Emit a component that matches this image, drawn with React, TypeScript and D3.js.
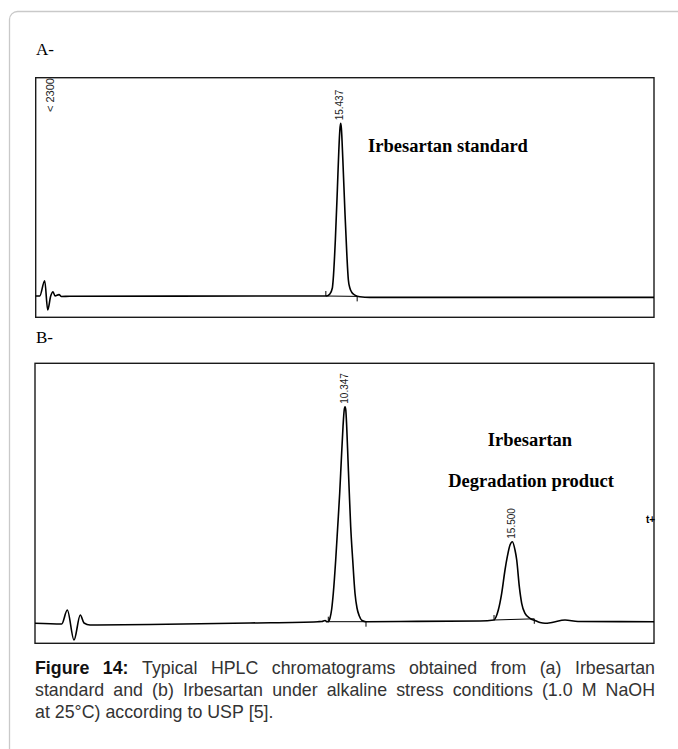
import * as d3 from 'd3';
import { useEffect, useRef } from 'react';

// Panel A - Irbesartan standard (retention time in min, detector response)
const timeA = [0, 0.203, 0.456, 0.608, 0.76, 0.876, 0.977, 1.18, 1.302, 1.722,
  14.724, 14.891, 15.017, 15.058, 15.169, 15.27, 15.346, 15.397, 15.437, 15.473,
  15.549, 15.65, 15.752, 15.828, 15.904, 16.005, 16.157, 16.41, 16.916, 31.3];
const signalA = [4, 4, 165, -143, 4, 49, 4, 18, -1, 2,
  4, 25, 88, 172, 593, 1119, 1540, 1750, 1820, 1771,
  1434, 908, 435, 172, 88, 41, 14, -4, -10, -10];

// Panel B - Irbesartan under alkaline stress
const timeB = [0.8, 1.622, 1.795, 2.001, 2.195, 2.309, 2.494, 4.341, 7.42, 9.514,
  9.637, 9.73, 9.791, 9.831, 9.884, 9.936, 9.985, 10.059, 10.121, 10.182,
  10.232, 10.284, 10.321, 10.347, 10.37, 10.398, 10.438, 10.478, 10.521, 10.583,
  10.653, 10.715, 10.786, 10.869, 10.992, 12.039, 14.502, 14.934, 14.995, 15.066,
  15.17, 15.272, 15.343, 15.426, 15.5, 15.58, 15.633, 15.713, 15.786, 15.888,
  16.042, 16.196, 16.35, 16.504, 16.72, 17.12, 17.52, 19.86];
const signalB = [0, -7, 133, -167, 83, 3, -17, -12, 3, 16,
  18, 28, 15, 16, 53, 143, 300, 633, 966, 1300,
  1633, 1966, 2133, 2166, 2133, 1966, 1633, 1300, 966, 633,
  300, 153, 73, 28, 16, 18, 23, 33, 63, 133,
  300, 533, 666, 783, 816, 733, 633, 366, 200, 100,
  50, 28, 8, 0, 8, 33, 18, 16];

// peak labels (retention times) and apex heights
const peakTimesA = [15.437];
const peakHeightsA = [1820];
const peakTimesB = [10.347, 15.5];
const peakHeightsB = [2166, 816];

// integration marks: [start time, start value, end time, end value]
const integrationA = [[14.688, 4, 16.273, 0]];
const integrationB = [[9.831, 16, 10.992, 16], [14.934, 33, 16.174, 45]];

const captionLines = [
  'Figure 14: Typical HPLC chromatograms obtained from (a) Irbesartan',
  'standard and (b) Irbesartan under alkaline stress conditions (1.0 M NaOH',
  'at 25°C) according to USP [5].',
];

const App = () => {
  const svgRef = useRef<SVGSVGElement | null>(null);

  useEffect(() => {
    const width = 678;
    const height = 749;
    const svg = d3.select(svgRef.current)
      .attr('width', width)
      .attr('height', height);
    svg.selectAll('*').remove();

    // outer frame of the figure
    svg.append('rect')
      .attr('x', 9.5).attr('y', 11.5)
      .attr('width', 700).attr('height', 760)
      .attr('rx', 8)
      .attr('fill', 'none')
      .attr('stroke', '#c9c9c9')
      .attr('stroke-width', 1.3);

    const drawPanel = (cfg: {
      left: number; right: number; top: number; bottom: number;
      tDomain: [number, number]; vDomain: [number, number];
      times: number[]; values: number[];
      peakTimes: number[]; peakHeights: number[];
      integration: number[][];
    }) => {
      const x = d3.scaleLinear().domain(cfg.tDomain).range([cfg.left, cfg.right]);
      const y = d3.scaleLinear().domain(cfg.vDomain).range([cfg.bottom, cfg.top]);
      const g = svg.append('g');

      g.append('rect')
        .attr('x', cfg.left).attr('y', cfg.top)
        .attr('width', cfg.right - cfg.left).attr('height', cfg.bottom - cfg.top)
        .attr('fill', 'none')
        .attr('stroke', '#1a1a1a')
        .attr('stroke-width', 1.4);

      const pts = cfg.times.map((t, i) => [t, cfg.values[i]] as [number, number]);
      const line = d3.line<[number, number]>()
        .x((d) => x(d[0]))
        .y((d) => y(d[1]))
        .curve(d3.curveMonotoneX);

      g.append('path')
        .datum(pts)
        .attr('fill', 'none')
        .attr('stroke', '#000')
        .attr('stroke-width', 1.6)
        .attr('stroke-linejoin', 'round')
        .attr('d', line);

      // integration baseline and start/end ticks
      cfg.integration.forEach((m) => {
        g.append('line')
          .attr('x1', x(m[0])).attr('y1', y(m[1]))
          .attr('x2', x(m[2])).attr('y2', y(m[3]))
          .attr('stroke', '#000').attr('stroke-width', 1);
        g.append('line')
          .attr('x1', x(m[0])).attr('y1', y(m[1]))
          .attr('x2', x(m[0])).attr('y2', y(m[1]) - 5)
          .attr('stroke', '#000').attr('stroke-width', 1);
        g.append('line')
          .attr('x1', x(m[2])).attr('y1', y(m[3]))
          .attr('x2', x(m[2])).attr('y2', y(m[3]) + 5)
          .attr('stroke', '#000').attr('stroke-width', 1);
      });

      cfg.peakTimes.forEach((t, i) => {
        g.append('text')
          .attr('transform', `translate(${x(t) + 2.5},${y(cfg.peakHeights[i]) - 3}) rotate(-90)`)
          .attr('font-family', 'Liberation Sans, Arial, sans-serif')
          .attr('font-size', 10)
          .attr('fill', '#222')
          .text(t.toFixed(3));
      });
      return g;
    };

    // Panel A
    svg.append('text')
      .attr('x', 36).attr('y', 55)
      .attr('font-family', 'Liberation Serif, Times New Roman, serif')
      .attr('font-size', 17)
      .text('A-');

    const gA = drawPanel({
      left: 35.7, right: 654, top: 77.7, bottom: 317.3,
      tDomain: [0, 31.3], vDomain: [-220, 2300],
      times: timeA, values: signalA,
      peakTimes: peakTimesA, peakHeights: peakHeightsA,
      integration: integrationA,
    });
    gA.append('text')
      .attr('transform', 'translate(54,112) rotate(-90)')
      .attr('font-family', 'Liberation Sans, Arial, sans-serif')
      .attr('font-size', 11)
      .attr('fill', '#222')
      .text('< 2300');
    gA.append('text')
      .attr('x', 448).attr('y', 152)
      .attr('text-anchor', 'middle')
      .attr('font-family', 'Liberation Serif, Times New Roman, serif')
      .attr('font-weight', 'bold')
      .attr('font-size', 18.5)
      .text('Irbesartan standard');

    // Panel B
    svg.append('text')
      .attr('x', 36).attr('y', 343)
      .attr('font-family', 'Liberation Serif, Times New Roman, serif')
      .attr('font-size', 17)
      .text('B-');

    const gB = drawPanel({
      left: 35, right: 654, top: 363.3, bottom: 643.3,
      tDomain: [0.8, 19.86], vDomain: [-200, 2600],
      times: timeB, values: signalB,
      peakTimes: peakTimesB, peakHeights: peakHeightsB,
      integration: integrationB,
    });
    gB.append('text')
      .attr('x', 530).attr('y', 446)
      .attr('text-anchor', 'middle')
      .attr('font-family', 'Liberation Serif, Times New Roman, serif')
      .attr('font-weight', 'bold')
      .attr('font-size', 18.5)
      .text('Irbesartan');
    gB.append('text')
      .attr('x', 531).attr('y', 487)
      .attr('text-anchor', 'middle')
      .attr('font-family', 'Liberation Serif, Times New Roman, serif')
      .attr('font-weight', 'bold')
      .attr('font-size', 18.5)
      .text('Degradation product');
    gB.append('text')
      .attr('x', 646).attr('y', 523)
      .attr('font-family', 'Liberation Sans, Arial, sans-serif')
      .attr('font-weight', 'bold')
      .attr('font-size', 10)
      .text('t+');

    // Caption, justified on the first two lines
    const capLeft = 35;
    const capWidth = 620;
    const capSize = 17.8;
    const baselines = [674, 696, 718];
    const cap = svg.append('g')
      .attr('font-family', 'Liberation Sans, Arial, sans-serif')
      .attr('font-size', capSize)
      .attr('fill', '#333');
    captionLines.forEach((ln, li) => {
      const words = ln.split(' ');
      const nodes = words.map((w, wi) =>
        cap.append('text')
          .attr('y', baselines[li])
          .attr('font-weight', li === 0 && wi < 2 ? 'bold' : 'normal')
          .attr('fill', li === 0 && wi < 2 ? '#111' : '#333')
          .text(w));
      const widths = nodes.map((n) => (n.node() as SVGTextElement).getComputedTextLength());
      const total = d3.sum(widths);
      const justify = li < captionLines.length - 1;
      const gap = justify ? (capWidth - total) / (words.length - 1) : capSize * 0.278;
      let cx = capLeft;
      nodes.forEach((n, i) => {
        n.attr('x', cx);
        cx += widths[i] + gap;
      });
    });
  }, []);

  return <svg ref={svgRef} style={{ position: 'absolute', left: 0, top: 0 }}></svg>;
};

export default App;
